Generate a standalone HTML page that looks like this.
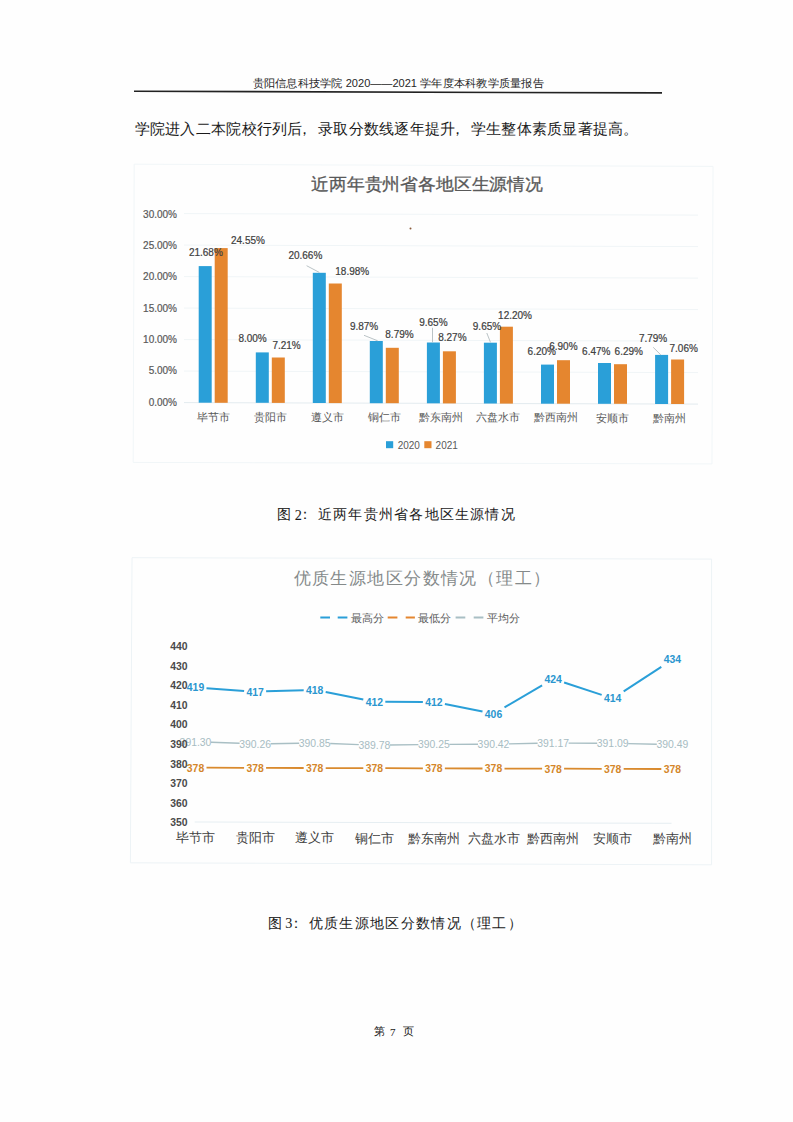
<!DOCTYPE html>
<html><head><meta charset="utf-8"><style>
html,body{margin:0;padding:0;background:#fff;}
svg{display:block;}
</style></head><body>
<svg width="793" height="1122" viewBox="0 0 793 1122" style="font-family:'Liberation Sans',sans-serif">
<rect width="793" height="1122" fill="#fefefe"/>
<text x="252.5" y="86.7" font-size="10.8" fill="#262626" font-family="Liberation Sans" textLength="291.5" lengthAdjust="spacingAndGlyphs">贵阳信息科技学院 2020——2021 学年度本科教学质量报告</text>
<line x1="134.0" y1="91.3" x2="662.0" y2="92.9" stroke="#222" stroke-width="1.6"/>
<text x="134.6 149.9 165.2 180.4 195.7 211.0 226.3 241.6 256.8 272.1 287.4 297.2 318.0 333.2 348.5 363.8 379.1 394.4 409.6 424.9 440.2 449.8 470.8 486.0 501.3 516.6 531.9 547.2 562.4 577.7 593.0 608.3 622.6" y="133.9" font-size="14.9" fill="#1a1a1a" font-family="Liberation Serif">学院进入二本院校行列后，录取分数线逐年提升，学生整体素质显著提高。</text>
<polygon points="134.2,164.2 713.0,166.4 712.0,463.9 133.2,462.4" fill="none" stroke="#f1f6f8" stroke-width="1"/>
<text x="311.0" y="190.3" font-size="17.4" fill="#595959" font-family="Liberation Sans" textLength="232.0" lengthAdjust="spacingAndGlyphs" stroke="#595959" stroke-width="0.3">近两年贵州省各地区生源情况</text>
<line x1="184.0" y1="402.6" x2="698.0" y2="404.1" stroke="#e3ebef" stroke-width="1"/>
<line x1="184.0" y1="371.1" x2="698.0" y2="372.6" stroke="#f0f5f7" stroke-width="1"/>
<line x1="184.0" y1="339.6" x2="698.0" y2="341.1" stroke="#f0f5f7" stroke-width="1"/>
<line x1="184.0" y1="308.1" x2="698.0" y2="309.6" stroke="#f0f5f7" stroke-width="1"/>
<line x1="184.0" y1="276.6" x2="698.0" y2="278.1" stroke="#f0f5f7" stroke-width="1"/>
<line x1="184.0" y1="245.1" x2="698.0" y2="246.6" stroke="#f0f5f7" stroke-width="1"/>
<line x1="184.0" y1="213.6" x2="698.0" y2="215.1" stroke="#f0f5f7" stroke-width="1"/>
<text x="177.0" y="405.7" font-size="10" fill="#595959" font-family="Liberation Sans" text-anchor="end" stroke="#595959" stroke-width="0.2">0.00%</text>
<text x="177.0" y="374.4" font-size="10" fill="#595959" font-family="Liberation Sans" text-anchor="end" stroke="#595959" stroke-width="0.2">5.00%</text>
<text x="177.0" y="343.0" font-size="10" fill="#595959" font-family="Liberation Sans" text-anchor="end" stroke="#595959" stroke-width="0.2">10.00%</text>
<text x="177.0" y="311.7" font-size="10" fill="#595959" font-family="Liberation Sans" text-anchor="end" stroke="#595959" stroke-width="0.2">15.00%</text>
<text x="177.0" y="280.4" font-size="10" fill="#595959" font-family="Liberation Sans" text-anchor="end" stroke="#595959" stroke-width="0.2">20.00%</text>
<text x="177.0" y="249.1" font-size="10" fill="#595959" font-family="Liberation Sans" text-anchor="end" stroke="#595959" stroke-width="0.2">25.00%</text>
<text x="177.0" y="217.7" font-size="10" fill="#595959" font-family="Liberation Sans" text-anchor="end" stroke="#595959" stroke-width="0.2">30.00%</text>
<rect x="198.7" y="266.1" width="13" height="136.6" fill="#2a9fd8"/>
<rect x="214.7" y="248.1" width="13" height="154.7" fill="#e5862f"/>
<text x="213.2" y="420.5" font-size="11" fill="#595959" font-family="Liberation Sans" text-anchor="middle">毕节市</text>
<rect x="255.8" y="352.4" width="13" height="50.4" fill="#2a9fd8"/>
<rect x="271.8" y="357.5" width="13" height="45.4" fill="#e5862f"/>
<text x="270.2" y="420.6" font-size="11" fill="#595959" font-family="Liberation Sans" text-anchor="middle">贵阳市</text>
<rect x="312.8" y="272.8" width="13" height="130.2" fill="#2a9fd8"/>
<rect x="328.8" y="283.5" width="13" height="119.6" fill="#e5862f"/>
<text x="327.3" y="420.8" font-size="11" fill="#595959" font-family="Liberation Sans" text-anchor="middle">遵义市</text>
<rect x="369.8" y="341.0" width="13" height="62.2" fill="#2a9fd8"/>
<rect x="385.8" y="347.8" width="13" height="55.4" fill="#e5862f"/>
<text x="384.3" y="420.9" font-size="11" fill="#595959" font-family="Liberation Sans" text-anchor="middle">铜仁市</text>
<rect x="426.9" y="342.5" width="13" height="60.8" fill="#2a9fd8"/>
<rect x="442.9" y="351.3" width="13" height="52.1" fill="#e5862f"/>
<text x="441.4" y="421.1" font-size="11" fill="#595959" font-family="Liberation Sans" text-anchor="middle">黔东南州</text>
<rect x="483.9" y="342.7" width="13" height="60.8" fill="#2a9fd8"/>
<rect x="499.9" y="326.7" width="13" height="76.9" fill="#e5862f"/>
<text x="498.4" y="421.3" font-size="11" fill="#595959" font-family="Liberation Sans" text-anchor="middle">六盘水市</text>
<rect x="541.0" y="364.6" width="13" height="39.1" fill="#2a9fd8"/>
<rect x="557.0" y="360.2" width="13" height="43.5" fill="#e5862f"/>
<text x="555.5" y="421.4" font-size="11" fill="#595959" font-family="Liberation Sans" text-anchor="middle">黔西南州</text>
<rect x="598.0" y="363.0" width="13" height="40.8" fill="#2a9fd8"/>
<rect x="614.0" y="364.2" width="13" height="39.6" fill="#e5862f"/>
<text x="612.5" y="421.6" font-size="11" fill="#595959" font-family="Liberation Sans" text-anchor="middle">安顺市</text>
<rect x="655.1" y="354.9" width="13" height="49.1" fill="#2a9fd8"/>
<rect x="671.1" y="359.5" width="13" height="44.5" fill="#e5862f"/>
<text x="669.6" y="421.7" font-size="11" fill="#595959" font-family="Liberation Sans" text-anchor="middle">黔南州</text>
<text x="188.9" y="256.0" font-size="10" fill="#404040" font-family="Liberation Sans" stroke="#404040" stroke-width="0.2">21.68%</text>
<text x="231.0" y="243.7" font-size="10" fill="#404040" font-family="Liberation Sans" stroke="#404040" stroke-width="0.2">24.55%</text>
<text x="238.4" y="341.5" font-size="10" fill="#404040" font-family="Liberation Sans" stroke="#404040" stroke-width="0.2">8.00%</text>
<text x="272.4" y="348.5" font-size="10" fill="#404040" font-family="Liberation Sans" stroke="#404040" stroke-width="0.2">7.21%</text>
<text x="288.4" y="259.2" font-size="10" fill="#404040" font-family="Liberation Sans" stroke="#404040" stroke-width="0.2">20.66%</text>
<text x="335.3" y="274.7" font-size="10" fill="#404040" font-family="Liberation Sans" stroke="#404040" stroke-width="0.2">18.98%</text>
<text x="349.9" y="330.4" font-size="10" fill="#404040" font-family="Liberation Sans" stroke="#404040" stroke-width="0.2">9.87%</text>
<text x="385.3" y="337.9" font-size="10" fill="#404040" font-family="Liberation Sans" stroke="#404040" stroke-width="0.2">8.79%</text>
<text x="419.2" y="325.8" font-size="10" fill="#404040" font-family="Liberation Sans" stroke="#404040" stroke-width="0.2">9.65%</text>
<text x="438.2" y="341.0" font-size="10" fill="#404040" font-family="Liberation Sans" stroke="#404040" stroke-width="0.2">8.27%</text>
<text x="472.8" y="329.7" font-size="10" fill="#404040" font-family="Liberation Sans" stroke="#404040" stroke-width="0.2">9.65%</text>
<text x="498.1" y="318.7" font-size="10" fill="#404040" font-family="Liberation Sans" stroke="#404040" stroke-width="0.2">12.20%</text>
<text x="527.6" y="355.4" font-size="10" fill="#404040" font-family="Liberation Sans" stroke="#404040" stroke-width="0.2">6.20%</text>
<text x="549.2" y="350.1" font-size="10" fill="#404040" font-family="Liberation Sans" stroke="#404040" stroke-width="0.2">6.90%</text>
<text x="582.1" y="355.4" font-size="10" fill="#404040" font-family="Liberation Sans" stroke="#404040" stroke-width="0.2">6.47%</text>
<text x="614.6" y="355.4" font-size="10" fill="#404040" font-family="Liberation Sans" stroke="#404040" stroke-width="0.2">6.29%</text>
<text x="638.9" y="342.3" font-size="10" fill="#404040" font-family="Liberation Sans" stroke="#404040" stroke-width="0.2">7.79%</text>
<text x="669.5" y="351.6" font-size="10" fill="#404040" font-family="Liberation Sans" stroke="#404040" stroke-width="0.2">7.06%</text>
<line x1="306.6" y1="265.7" x2="319.3" y2="272.4" stroke="#a8b4b8" stroke-width="0.8"/>
<line x1="364.0" y1="335.3" x2="377.7" y2="340.8" stroke="#a8b4b8" stroke-width="0.8"/>
<line x1="432.5" y1="327.8" x2="432.5" y2="342.3" stroke="#a8b4b8" stroke-width="0.8"/>
<line x1="486.8" y1="333.0" x2="490.5" y2="342.4" stroke="#a8b4b8" stroke-width="0.8"/>
<line x1="653.2" y1="347.3" x2="660.8" y2="354.9" stroke="#a8b4b8" stroke-width="0.8"/>
<rect x="386" y="441.2" width="7.2" height="7" fill="#2a9fd8"/>
<text x="397.7" y="448.5" font-size="10" fill="#595959" font-family="Liberation Sans">2020</text>
<rect x="424.3" y="441.2" width="7.2" height="7" fill="#e5862f"/>
<text x="435.6" y="448.5" font-size="10" fill="#595959" font-family="Liberation Sans">2021</text>
<text x="277.0" y="519.2" font-size="14.2" fill="#1a1a1a" font-family="Liberation Serif" stroke="#1a1a1a" stroke-width="0.05">图</text>
<text x="294.7" y="519.6" font-size="14.2" fill="#1a1a1a" font-family="Liberation Serif" stroke="#1a1a1a" stroke-width="0.05">2</text>
<text x="298.0" y="519.2" font-size="14.2" fill="#1a1a1a" font-family="Liberation Serif" stroke="#1a1a1a" stroke-width="0.05">：</text>
<text x="317.9 333.1 348.4 363.6 378.8 394.0 409.3 424.5 439.7 455.0 470.2 485.4 500.7" y="519.2" font-size="14.2" fill="#1a1a1a" font-family="Liberation Serif">近两年贵州省各地区生源情况</text>
<polygon points="132.0,557.7 711.6,559.1 711.6,864.8 130.4,862.8" fill="none" stroke="#edf3f6" stroke-width="1"/>
<text x="293.6 312.0 330.4 348.9 367.3 385.7 404.1 422.5 441.0 459.4 477.8 496.2 514.6 533.1" y="584.4" font-size="17.2" fill="#858a8a" font-family="Liberation Serif">优质生源地区分数情况（理工）</text>
<line x1="320.3" y1="617.5" x2="330.0" y2="617.5" stroke="#2a9fd8" stroke-width="2"/>
<line x1="337.7" y1="617.5" x2="347.4" y2="617.5" stroke="#2a9fd8" stroke-width="2"/>
<line x1="387.7" y1="617.5" x2="397.4" y2="617.5" stroke="#e5862f" stroke-width="2"/>
<line x1="405.7" y1="617.5" x2="414.9" y2="617.5" stroke="#e5862f" stroke-width="2"/>
<line x1="455.6" y1="617.5" x2="465.3" y2="617.5" stroke="#a9bfc4" stroke-width="2"/>
<line x1="473.7" y1="617.5" x2="483.4" y2="617.5" stroke="#a9bfc4" stroke-width="2"/>
<text x="350.5" y="621.7" font-size="11.2" fill="#595959" font-family="Liberation Serif">最高分</text>
<text x="417.7" y="621.7" font-size="11.2" fill="#595959" font-family="Liberation Serif">最低分</text>
<text x="486.5" y="621.7" font-size="11.2" fill="#595959" font-family="Liberation Serif">平均分</text>
<line x1="194.7" y1="822.0" x2="671.5" y2="823.3" stroke="#e6eef2" stroke-width="1"/>
<line x1="206.5" y1="688.3" x2="244.1" y2="690.9" stroke="#2a9fd8" stroke-width="2.0"/>
<line x1="266.1" y1="691.3" x2="303.7" y2="690.2" stroke="#2a9fd8" stroke-width="2.0"/>
<line x1="325.7" y1="692.1" x2="363.3" y2="699.6" stroke="#2a9fd8" stroke-width="2.0"/>
<line x1="385.3" y1="701.8" x2="422.9" y2="701.9" stroke="#2a9fd8" stroke-width="2.0"/>
<line x1="444.9" y1="704.1" x2="482.5" y2="711.6" stroke="#2a9fd8" stroke-width="2.0"/>
<line x1="504.5" y1="707.4" x2="542.1" y2="685.3" stroke="#2a9fd8" stroke-width="2.0"/>
<line x1="564.1" y1="682.5" x2="601.7" y2="694.9" stroke="#2a9fd8" stroke-width="2.0"/>
<line x1="623.7" y1="691.3" x2="661.3" y2="666.8" stroke="#2a9fd8" stroke-width="2.0"/>
<text x="195.5" y="691.4" font-size="10.4" fill="#2a96cf" font-family="Liberation Sans" text-anchor="middle" font-weight="bold">419</text>
<text x="255.1" y="695.5" font-size="10.4" fill="#2a96cf" font-family="Liberation Sans" text-anchor="middle" font-weight="bold">417</text>
<text x="314.7" y="693.7" font-size="10.4" fill="#2a96cf" font-family="Liberation Sans" text-anchor="middle" font-weight="bold">418</text>
<text x="374.3" y="705.6" font-size="10.4" fill="#2a96cf" font-family="Liberation Sans" text-anchor="middle" font-weight="bold">412</text>
<text x="433.9" y="705.7" font-size="10.4" fill="#2a96cf" font-family="Liberation Sans" text-anchor="middle" font-weight="bold">412</text>
<text x="493.5" y="717.6" font-size="10.4" fill="#2a96cf" font-family="Liberation Sans" text-anchor="middle" font-weight="bold">406</text>
<text x="553.1" y="682.6" font-size="10.4" fill="#2a96cf" font-family="Liberation Sans" text-anchor="middle" font-weight="bold">424</text>
<text x="612.7" y="702.3" font-size="10.4" fill="#2a96cf" font-family="Liberation Sans" text-anchor="middle" font-weight="bold">414</text>
<text x="672.3" y="663.4" font-size="10.4" fill="#2a96cf" font-family="Liberation Sans" text-anchor="middle" font-weight="bold">434</text>
<line x1="211.0" y1="742.3" x2="239.6" y2="743.3" stroke="#a9bfc4" stroke-width="1.4"/>
<line x1="270.6" y1="743.7" x2="299.2" y2="743.2" stroke="#a9bfc4" stroke-width="1.4"/>
<line x1="330.2" y1="743.5" x2="358.8" y2="744.6" stroke="#a9bfc4" stroke-width="1.4"/>
<line x1="389.8" y1="745.0" x2="418.4" y2="744.6" stroke="#a9bfc4" stroke-width="1.4"/>
<line x1="449.4" y1="744.4" x2="478.0" y2="744.3" stroke="#a9bfc4" stroke-width="1.4"/>
<line x1="509.0" y1="743.9" x2="537.6" y2="743.3" stroke="#a9bfc4" stroke-width="1.4"/>
<line x1="568.6" y1="743.1" x2="597.2" y2="743.2" stroke="#a9bfc4" stroke-width="1.4"/>
<line x1="628.2" y1="743.6" x2="656.8" y2="744.3" stroke="#a9bfc4" stroke-width="1.4"/>
<text x="195.5" y="745.5" font-size="10.4" fill="#a7bcc2" font-family="Liberation Sans" text-anchor="middle">391.30</text>
<text x="255.1" y="747.7" font-size="10.4" fill="#a7bcc2" font-family="Liberation Sans" text-anchor="middle">390.26</text>
<text x="314.7" y="746.7" font-size="10.4" fill="#a7bcc2" font-family="Liberation Sans" text-anchor="middle">390.85</text>
<text x="374.3" y="749.0" font-size="10.4" fill="#a7bcc2" font-family="Liberation Sans" text-anchor="middle">389.78</text>
<text x="433.9" y="748.2" font-size="10.4" fill="#a7bcc2" font-family="Liberation Sans" text-anchor="middle">390.25</text>
<text x="493.5" y="748.1" font-size="10.4" fill="#a7bcc2" font-family="Liberation Sans" text-anchor="middle">390.42</text>
<text x="553.1" y="746.8" font-size="10.4" fill="#a7bcc2" font-family="Liberation Sans" text-anchor="middle">391.17</text>
<text x="612.7" y="747.1" font-size="10.4" fill="#a7bcc2" font-family="Liberation Sans" text-anchor="middle">391.09</text>
<text x="672.3" y="748.4" font-size="10.4" fill="#a7bcc2" font-family="Liberation Sans" text-anchor="middle">390.49</text>
<line x1="206.5" y1="767.7" x2="244.1" y2="767.8" stroke="#d98a2e" stroke-width="1.8"/>
<line x1="266.1" y1="767.9" x2="303.7" y2="768.0" stroke="#d98a2e" stroke-width="1.8"/>
<line x1="325.7" y1="768.1" x2="363.3" y2="768.2" stroke="#d98a2e" stroke-width="1.8"/>
<line x1="385.3" y1="768.2" x2="422.9" y2="768.3" stroke="#d98a2e" stroke-width="1.8"/>
<line x1="444.9" y1="768.4" x2="482.5" y2="768.5" stroke="#d98a2e" stroke-width="1.8"/>
<line x1="504.5" y1="768.6" x2="542.1" y2="768.7" stroke="#d98a2e" stroke-width="1.8"/>
<line x1="564.1" y1="768.7" x2="601.7" y2="768.8" stroke="#d98a2e" stroke-width="1.8"/>
<line x1="623.7" y1="768.9" x2="661.3" y2="769.0" stroke="#d98a2e" stroke-width="1.8"/>
<text x="195.5" y="771.5" font-size="10.4" fill="#d4862a" font-family="Liberation Sans" text-anchor="middle" font-weight="bold">378</text>
<text x="255.1" y="771.7" font-size="10.4" fill="#d4862a" font-family="Liberation Sans" text-anchor="middle" font-weight="bold">378</text>
<text x="314.7" y="771.8" font-size="10.4" fill="#d4862a" font-family="Liberation Sans" text-anchor="middle" font-weight="bold">378</text>
<text x="374.3" y="772.0" font-size="10.4" fill="#d4862a" font-family="Liberation Sans" text-anchor="middle" font-weight="bold">378</text>
<text x="433.9" y="772.2" font-size="10.4" fill="#d4862a" font-family="Liberation Sans" text-anchor="middle" font-weight="bold">378</text>
<text x="493.5" y="772.3" font-size="10.4" fill="#d4862a" font-family="Liberation Sans" text-anchor="middle" font-weight="bold">378</text>
<text x="553.1" y="772.5" font-size="10.4" fill="#d4862a" font-family="Liberation Sans" text-anchor="middle" font-weight="bold">378</text>
<text x="612.7" y="772.7" font-size="10.4" fill="#d4862a" font-family="Liberation Sans" text-anchor="middle" font-weight="bold">378</text>
<text x="672.3" y="772.8" font-size="10.4" fill="#d4862a" font-family="Liberation Sans" text-anchor="middle" font-weight="bold">378</text>
<text x="187.5" y="826.1" font-size="10.4" fill="#4a4a4a" font-family="Liberation Sans" text-anchor="end" font-weight="bold">350</text>
<text x="187.5" y="806.6" font-size="10.4" fill="#4a4a4a" font-family="Liberation Sans" text-anchor="end" font-weight="bold">360</text>
<text x="187.5" y="787.0" font-size="10.4" fill="#4a4a4a" font-family="Liberation Sans" text-anchor="end" font-weight="bold">370</text>
<text x="187.5" y="767.5" font-size="10.4" fill="#4a4a4a" font-family="Liberation Sans" text-anchor="end" font-weight="bold">380</text>
<text x="187.5" y="747.9" font-size="10.4" fill="#4a4a4a" font-family="Liberation Sans" text-anchor="end" font-weight="bold">390</text>
<text x="187.5" y="728.4" font-size="10.4" fill="#4a4a4a" font-family="Liberation Sans" text-anchor="end" font-weight="bold">400</text>
<text x="187.5" y="708.9" font-size="10.4" fill="#4a4a4a" font-family="Liberation Sans" text-anchor="end" font-weight="bold">410</text>
<text x="187.5" y="689.3" font-size="10.4" fill="#4a4a4a" font-family="Liberation Sans" text-anchor="end" font-weight="bold">420</text>
<text x="187.5" y="669.8" font-size="10.4" fill="#4a4a4a" font-family="Liberation Sans" text-anchor="end" font-weight="bold">430</text>
<text x="187.5" y="650.2" font-size="10.4" fill="#4a4a4a" font-family="Liberation Sans" text-anchor="end" font-weight="bold">440</text>
<text x="195.5" y="842.0" font-size="12.6" fill="#404040" font-family="Liberation Serif" text-anchor="middle">毕节市</text>
<text x="255.1" y="842.2" font-size="12.6" fill="#404040" font-family="Liberation Serif" text-anchor="middle">贵阳市</text>
<text x="314.7" y="842.3" font-size="12.6" fill="#404040" font-family="Liberation Serif" text-anchor="middle">遵义市</text>
<text x="374.3" y="842.5" font-size="12.6" fill="#404040" font-family="Liberation Serif" text-anchor="middle">铜仁市</text>
<text x="433.9" y="842.7" font-size="12.6" fill="#404040" font-family="Liberation Serif" text-anchor="middle">黔东南州</text>
<text x="493.5" y="842.8" font-size="12.6" fill="#404040" font-family="Liberation Serif" text-anchor="middle">六盘水市</text>
<text x="553.1" y="843.0" font-size="12.6" fill="#404040" font-family="Liberation Serif" text-anchor="middle">黔西南州</text>
<text x="612.7" y="843.2" font-size="12.6" fill="#404040" font-family="Liberation Serif" text-anchor="middle">安顺市</text>
<text x="672.3" y="843.3" font-size="12.6" fill="#404040" font-family="Liberation Serif" text-anchor="middle">黔南州</text>
<text x="267.5" y="927.7" font-size="14.2" fill="#1a1a1a" font-family="Liberation Serif" stroke="#1a1a1a" stroke-width="0.05">图</text>
<text x="285.2" y="928.1" font-size="14.2" fill="#1a1a1a" font-family="Liberation Serif" stroke="#1a1a1a" stroke-width="0.05">3</text>
<text x="288.6" y="927.7" font-size="14.2" fill="#1a1a1a" font-family="Liberation Serif" stroke="#1a1a1a" stroke-width="0.05">：</text>
<text x="308.8 324.1 339.4 354.7 370.0 385.3 400.6 415.9 431.2 446.5 461.8 477.1 492.4 507.7" y="927.7" font-size="14.2" fill="#1a1a1a" font-family="Liberation Serif">优质生源地区分数情况（理工）</text>
<text x="374.0" y="1035.3" font-size="11" fill="#1a1a1a" font-family="Liberation Serif" stroke="#1a1a1a" stroke-width="0.05">第</text>
<text x="390.0" y="1035.6" font-size="11" fill="#1a1a1a" font-family="Liberation Serif" stroke="#1a1a1a" stroke-width="0.05">7</text>
<text x="403.0" y="1035.3" font-size="11" fill="#1a1a1a" font-family="Liberation Serif" stroke="#1a1a1a" stroke-width="0.05">页</text>
<circle cx="410.5" cy="228.5" r="1" fill="#8a5a3a"/>
</svg></body></html>
